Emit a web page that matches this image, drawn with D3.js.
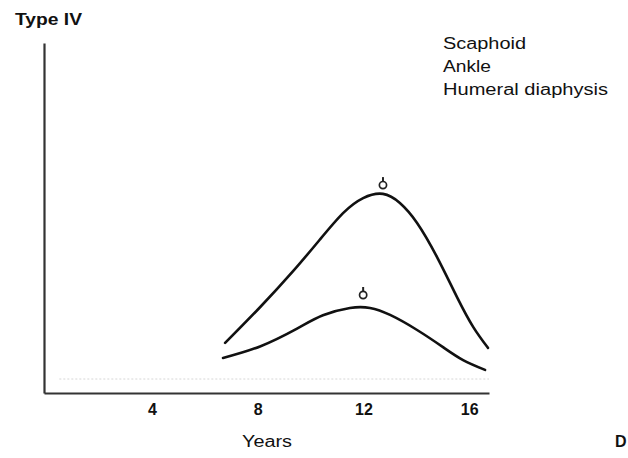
<!DOCTYPE html>
<html>
<head>
<meta charset="utf-8">
<script src="https://cdn.jsdelivr.net/npm/d3@7"></script>
<style>
  html, body { margin: 0; padding: 0; background: #fff; }
  svg { display: block; font-family: "Liberation Sans", Arial, sans-serif; }
</style>
</head>
<body>
<svg id="chart" width="628" height="458"></svg>
<script>
// ---- data ----
const yTitle = "Type IV";
const xTitle = "Years";
const panelLabel = "D";
const legendItems = ["Scaphoid", "Ankle", "Humeral diaphysis"];
const xTicks = [4, 8, 12, 16];

const upperYears  = [6.77, 8.09, 9.34, 10.36, 11.23, 11.99, 12.74, 13.38, 14.03, 14.78, 15.54, 16.15, 16.71];
const upperValues = [14.3, 24.5, 34.8, 43.9, 51.4, 55.7, 56.9, 54.3, 48.6, 38.9, 27.4, 18.9, 12.9];

const lowerYears  = [6.69, 8.09, 9.49, 10.47, 11.49, 12.25, 13.01, 14.03, 15.01, 15.77, 16.60];
const lowerValues = [10.0, 13.3, 18.4, 22.2, 24.3, 24.3, 22.3, 18.0, 13.1, 9.4, 6.6];

const markerYears  = [12.74, 11.99];
const markerValues = [59.4, 28.0];

const baselineValue = 4;

// ---- chart ----
const svg = d3.select("#chart");
const x = d3.scaleLinear().domain([-0.08, 16.75]).range([44, 489]);
const y = d3.scaleLinear().domain([0, 100]).range([393, 43]);

// faint dotted baseline
svg.append("line")
  .attr("x1", x(0.5)).attr("x2", x(16.75))
  .attr("y1", y(baselineValue)).attr("y2", y(baselineValue))
  .attr("stroke", "#d6d6d6").attr("stroke-width", 1)
  .attr("stroke-dasharray", "2,2");

// axes
const xAxis = svg.append("g")
  .attr("transform", `translate(0,${y(0)})`)
  .call(d3.axisBottom(x).tickValues(xTicks).tickSize(0).tickSizeOuter(0).tickPadding(11));
xAxis.select(".domain").attr("stroke", "#333").attr("stroke-width", 2.2);
xAxis.selectAll(".tick text")
  .attr("fill", "#111")
  .style("font-size", "16px")
  .style("font-weight", "bold")
  .style("font-family", "'Liberation Sans', Arial, sans-serif");

const yAxis = svg.append("g")
  .attr("transform", `translate(${x.range()[0]},0)`)
  .call(d3.axisLeft(y).tickValues([]).tickSize(0).tickSizeOuter(0));
yAxis.select(".domain").attr("stroke", "#333").attr("stroke-width", 2.2);

// curves
const line = d3.line()
  .x(d => x(d[0])).y(d => y(d[1]))
  .curve(d3.curveNatural);

const series = [
  d3.zip(upperYears, upperValues),
  d3.zip(lowerYears, lowerValues)
];
svg.selectAll("path.curve")
  .data(series)
  .join("path")
  .attr("class", "curve")
  .attr("d", line)
  .attr("fill", "none")
  .attr("stroke", "#111")
  .attr("stroke-width", 2.6)
  .attr("stroke-linecap", "round");

// peak markers
const markers = svg.selectAll("g.marker")
  .data(d3.zip(markerYears, markerValues))
  .join("g")
  .attr("class", "marker")
  .attr("transform", d => `translate(${x(d[0])},${y(d[1])})`);
markers.append("path")
  .attr("d", "M0,-3.5 L0,-8")
  .attr("stroke", "#222").attr("stroke-width", 2);
markers.append("circle")
  .attr("r", 3.6)
  .attr("fill", "#fff")
  .attr("stroke", "#222")
  .attr("stroke-width", 1.7);

// texts
svg.append("text")
  .attr("x", 15).attr("y", 25)
  .attr("textLength", 67).attr("lengthAdjust", "spacingAndGlyphs")
  .style("font-size", "16px").style("font-weight", "bold")
  .attr("fill", "#111")
  .text(yTitle);

const legendWidths = [83, 48, 165];
svg.selectAll("text.legend")
  .data(legendItems)
  .join("text")
  .attr("class", "legend")
  .attr("x", 443)
  .attr("y", (d, i) => 49 + i * 23)
  .attr("textLength", (d, i) => legendWidths[i])
  .attr("lengthAdjust", "spacingAndGlyphs")
  .style("font-size", "16px")
  .attr("fill", "#111")
  .text(d => d);

svg.append("text")
  .attr("x", 267).attr("y", 447)
  .attr("text-anchor", "middle")
  .attr("textLength", 50).attr("lengthAdjust", "spacingAndGlyphs")
  .style("font-size", "16px")
  .attr("fill", "#111")
  .text(xTitle);

svg.append("text")
  .attr("x", 615).attr("y", 447)
  .style("font-size", "16px").style("font-weight", "bold")
  .attr("fill", "#111")
  .text(panelLabel);
</script>
</body>
</html>
